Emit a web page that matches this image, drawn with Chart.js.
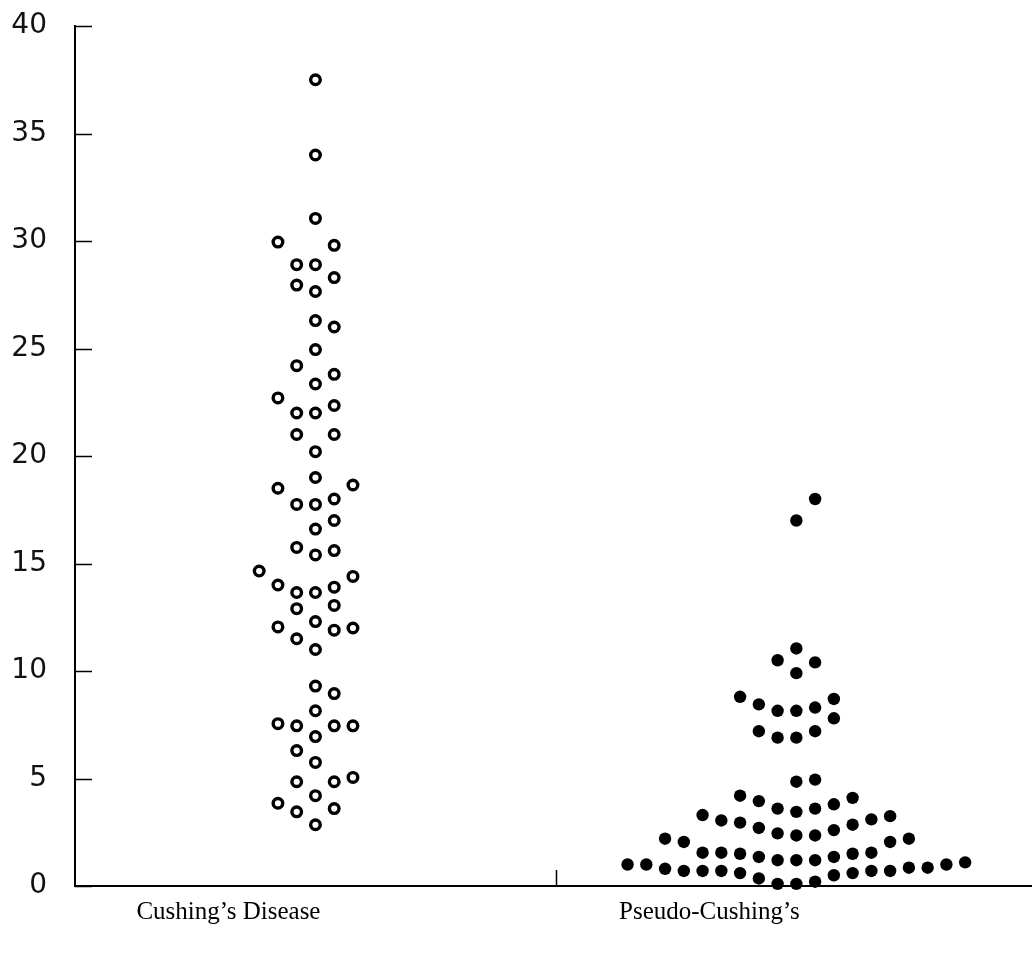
<!DOCTYPE html>
<html>
<head>
<meta charset="utf-8">
<script src="https://cdn.jsdelivr.net/npm/chart.js@4/dist/chart.umd.min.js"></script>
<style>
  html, body { margin: 0; padding: 0; background: #fff; }
  canvas { display: block; }
</style>
</head>
<body>
<canvas id="grafico" width="1032" height="956"></canvas>
<script>
// categorias e posicao de cada uma no eixo x
const categorias = ['Cushing\u2019s Disease', 'Pseudo-Cushing\u2019s'];
const posicoes = [1, 3];
const ticksY = [0, 5, 10, 15, 20, 25, 30, 35, 40];

// valores (Cushing's Disease)
const valoresCushing = [
    37.5, 34.0, 31.05, 29.95, 29.8, 28.9, 28.9, 28.3, 27.95, 27.65,
    26.3, 26.0, 24.95, 24.2, 23.8, 23.35, 22.7, 22.35, 22.0, 22.0,
    21.0, 21.0, 20.2, 19.0, 18.5, 18.65, 17.75, 17.75, 18.0, 17.0,
    16.6, 15.75, 15.6, 15.4, 14.65, 14.0, 13.65, 13.65, 13.9, 14.4,
    12.9, 13.05, 12.3, 12.05, 11.9, 12.0, 11.5, 11.0, 9.3, 8.95,
    8.15, 7.55, 7.45, 7.45, 7.45, 6.95, 6.3, 5.75, 5.05, 4.85,
    4.85, 4.2, 3.85, 3.45, 3.6, 2.85
];
// coluna de cada ponto no enxame
const colunasCushing = [
    0, 0, 0, -2, 1, -1, 0, 1, -1, 0,
    0, 1, 0, -1, 1, 0, -2, 1, -1, 0,
    -1, 1, 0, 0, -2, 2, -1, 0, 1, 1,
    0, -1, 1, 0, -3, -2, -1, 0, 1, 2,
    -1, 1, 0, -2, 1, 2, -1, 0, 0, 1,
    0, -2, -1, 1, 2, 0, -1, 0, 2, -1,
    1, 0, -2, -1, 1, 0
];

// valores (Pseudo-Cushing's)
const valoresPseudo = [
    18.0, 17.0, 11.05, 10.5, 10.4, 9.9, 8.8, 8.45, 8.15, 8.15,
    8.3, 8.7, 7.8, 7.2, 6.9, 6.9, 7.2, 4.85, 4.95, 4.2,
    3.95, 3.6, 3.45, 3.6, 3.8, 4.1, 3.3, 3.05, 2.95, 2.7,
    2.45, 2.35, 2.35, 2.6, 2.85, 3.1, 3.25, 2.2, 2.05, 2.05,
    2.2, 1.55, 1.55, 1.5, 1.35, 1.2, 1.2, 1.2, 1.35, 1.5,
    1.55, 1.0, 1.0, 0.8, 0.7, 0.7, 0.7, 0.6, 0.35, 0.1,
    0.1, 0.2, 0.5, 0.6, 0.7, 0.7, 0.85, 0.85, 1.0, 1.1
];
const colunasPseudo = [
    1, 0, 0, -1, 1, 0, -3, -2, -1, 0,
    1, 2, 2, -2, -1, 0, 1, 0, 1, -3,
    -2, -1, 0, 1, 2, 3, -5, -4, -3, -2,
    -1, 0, 1, 2, 3, 4, 5, -7, -6, 5,
    6, -5, -4, -3, -2, -1, 0, 1, 2, 3,
    4, -9, -8, -7, -6, -5, -4, -3, -2, -1,
    0, 1, 2, 3, 4, 5, 6, 7, 8, 9
];

const larguraColuna = 0.078;

const montarPontos = (valores, colunas, centro) =>
    valores.map((v, i) => ({ x: centro + colunas[i] * larguraColuna, y: v }));

const semPadding = scale => {
    scale.paddingTop = 0;
    scale.paddingBottom = 0;
    scale.paddingLeft = 0;
    scale.paddingRight = 0;
};

// marcas de escala para dentro + rotulos das categorias
const eixosPlugin = {
    id: 'eixos',
    afterDraw(chart) {
        const ctx = chart.ctx;
        const yScale = chart.scales.y;
        const xScale = chart.scales.x;
        const area = chart.chartArea;
        ctx.save();
        ctx.strokeStyle = '#000';
        ctx.lineWidth = 1.5;
        ctx.beginPath();
        ticksY.forEach(t => {
            const py = Math.round(yScale.getPixelForValue(t)) + 0.5;
            ctx.moveTo(area.left, py);
            ctx.lineTo(area.left + 17, py);
        });
        const px = Math.round(xScale.getPixelForValue(2)) + 0.5;
        ctx.moveTo(px, area.bottom);
        ctx.lineTo(px, area.bottom - 16);
        ctx.stroke();

        ctx.fillStyle = '#000';
        ctx.font = '25px "Liberation Serif", "Times New Roman", serif';
        ctx.textAlign = 'center';
        ctx.textBaseline = 'middle';
        categorias.forEach((c, i) => {
            ctx.fillText(c, xScale.getPixelForValue(posicoes[i]) - 87, 912);
        });
        ctx.restore();
    }
};

new Chart(document.getElementById('grafico'), {
    type: 'scatter',
    data: {
        datasets: [{
            label: categorias[0],
            data: montarPontos(valoresCushing, colunasCushing, posicoes[0]),
            pointRadius: 4.8,
            pointHoverRadius: 4.8,
            pointBorderWidth: 3.4,
            pointBackgroundColor: '#fff',
            pointBorderColor: '#000',
            clip: false
        }, {
            label: categorias[1],
            data: montarPontos(valoresPseudo, colunasPseudo, posicoes[1]),
            pointRadius: 6.2,
            pointHoverRadius: 6.2,
            pointBorderWidth: 0,
            pointBackgroundColor: '#000',
            pointBorderColor: '#000',
            clip: false
        }]
    },
    options: {
        responsive: false,
        animation: false,
        layout: { autoPadding: false, padding: { top: 26, left: 0, right: 0, bottom: 0 } },
        plugins: {
            legend: { display: false },
            tooltip: { enabled: false }
        },
        scales: {
            x: {
                type: 'linear',
                min: 0,
                max: 3.98,
                afterFit: scale => { scale.height = 70; semPadding(scale); },
                grid: { display: false, drawTicks: false },
                border: { display: true, color: '#000', width: 2 },
                ticks: { display: false }
            },
            y: {
                min: 0,
                max: 40,
                afterBuildTicks: scale => {
                    scale.ticks = ticksY.map(v => ({ value: v }));
                },
                afterFit: scale => { scale.width = 75; semPadding(scale); },
                grid: { display: false, drawTicks: false },
                border: { display: true, color: '#000', width: 2 },
                ticks: {
                    padding: 28,
                    color: '#111',
                    font: { family: '"DejaVu Sans", sans-serif', size: 28 }
                }
            }
        }
    },
    plugins: [eixosPlugin]
});
</script>
</body>
</html>
